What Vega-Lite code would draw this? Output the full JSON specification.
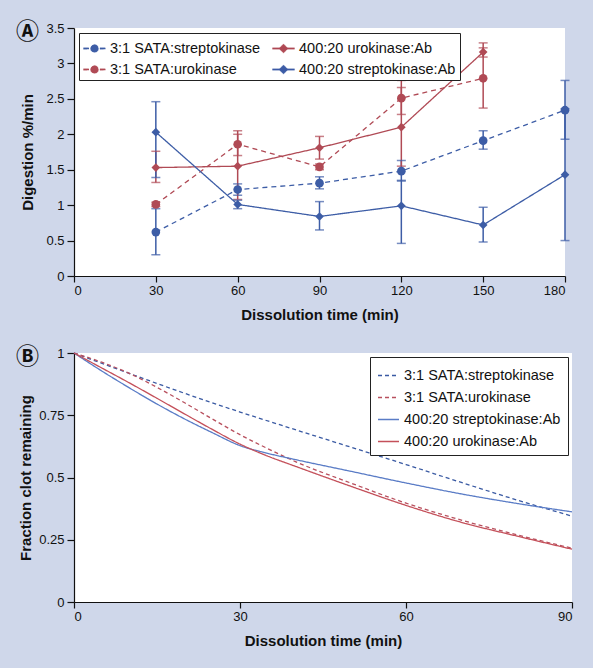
{
  "$schema": "https://vega.github.io/schema/vega-lite/v6.json",
  "background": "#cfd7ea",
  "padding": {"left": 16, "top": 21, "right": 18, "bottom": 20},
  "bounds": "flush",
  "spacing": 77,
  "config": {
    "font": "Liberation Sans",
    "view": {"fill": "white", "stroke": null},
    "axis": {"domainColor": "#111", "tickColor": "#111", "labelColor": "#111", "titleColor": "#111", "labelFontSize": 13, "titleFontSize": 15, "titleFontWeight": "bold", "grid": false, "labelFont": "Liberation Sans", "titleFont": "Liberation Sans", "domainWidth": 1.2, "tickWidth": 1.2, "labelOverlap": false},
    "legend": {"labelFont": "Liberation Sans", "labelFontSize": 14.5, "labelColor": "#111", "fillColor": "white", "strokeColor": "#222", "title": null},
    "title": {"font": "Noto Sans CJK JP", "fontSize": 23, "fontWeight": "bold", "color": "#111", "anchor": "start", "frame": "group", "align": "center", "baseline": "middle", "offset": 0, "dx": -58, "dy": 26}
  },
  "resolve": {"scale": {"color": "independent", "shape": "independent", "strokeDash": "independent", "x": "independent", "y": "independent"}, "legend": {"color": "independent"}},
  "datasets": {
    "digestion": [
      {"series": "3:1 SATA:streptokinase", "t": 30, "v": 0.62, "lo": 0.30, "hi": 0.95},
      {"series": "3:1 SATA:streptokinase", "t": 60, "v": 1.22, "lo": 1.14, "hi": 1.30},
      {"series": "3:1 SATA:streptokinase", "t": 90, "v": 1.31, "lo": 1.23, "hi": 1.40},
      {"series": "3:1 SATA:streptokinase", "t": 120, "v": 1.48, "lo": 1.34, "hi": 1.63},
      {"series": "3:1 SATA:streptokinase", "t": 150, "v": 1.91, "lo": 1.79, "hi": 2.05},
      {"series": "3:1 SATA:streptokinase", "t": 180, "v": 2.34, "lo": 1.93, "hi": 2.76},
      {"series": "3:1 SATA:urokinase", "t": 30, "v": 1.01, "lo": 0.98, "hi": 1.04},
      {"series": "3:1 SATA:urokinase", "t": 60, "v": 1.86, "lo": 1.70, "hi": 2.05},
      {"series": "3:1 SATA:urokinase", "t": 90, "v": 1.54, "lo": 1.50, "hi": 1.58},
      {"series": "3:1 SATA:urokinase", "t": 120, "v": 2.51, "lo": 2.28, "hi": 2.76},
      {"series": "3:1 SATA:urokinase", "t": 150, "v": 2.79, "lo": 2.37, "hi": 3.29},
      {"series": "400:20 urokinase:Ab", "t": 30, "v": 1.53, "lo": 1.32, "hi": 1.76},
      {"series": "400:20 urokinase:Ab", "t": 60, "v": 1.55, "lo": 1.08, "hi": 2.00},
      {"series": "400:20 urokinase:Ab", "t": 90, "v": 1.81, "lo": 1.65, "hi": 1.97},
      {"series": "400:20 urokinase:Ab", "t": 120, "v": 2.10, "lo": 1.55, "hi": 2.66},
      {"series": "400:20 urokinase:Ab", "t": 150, "v": 3.16, "lo": 3.09, "hi": 3.22},
      {"series": "400:20 streptokinase:Ab", "t": 30, "v": 2.03, "lo": 1.39, "hi": 2.46},
      {"series": "400:20 streptokinase:Ab", "t": 60, "v": 1.01, "lo": 0.95, "hi": 1.07},
      {"series": "400:20 streptokinase:Ab", "t": 90, "v": 0.84, "lo": 0.65, "hi": 1.05},
      {"series": "400:20 streptokinase:Ab", "t": 120, "v": 0.99, "lo": 0.46, "hi": 1.35},
      {"series": "400:20 streptokinase:Ab", "t": 150, "v": 0.72, "lo": 0.48, "hi": 0.97},
      {"series": "400:20 streptokinase:Ab", "t": 180, "v": 1.43, "lo": 0.50, "hi": 2.36}
    ],
    "clot": [
      {"curve": "3:1 SATA:streptokinase", "t": 0, "v": 1.0},
      {"curve": "3:1 SATA:streptokinase", "t": 10, "v": 0.918},
      {"curve": "3:1 SATA:streptokinase", "t": 20, "v": 0.838},
      {"curve": "3:1 SATA:streptokinase", "t": 30, "v": 0.763},
      {"curve": "3:1 SATA:streptokinase", "t": 40, "v": 0.692},
      {"curve": "3:1 SATA:streptokinase", "t": 50, "v": 0.622},
      {"curve": "3:1 SATA:streptokinase", "t": 60, "v": 0.552},
      {"curve": "3:1 SATA:streptokinase", "t": 70, "v": 0.48},
      {"curve": "3:1 SATA:streptokinase", "t": 80, "v": 0.41},
      {"curve": "3:1 SATA:streptokinase", "t": 90, "v": 0.345},
      {"curve": "3:1 SATA:urokinase", "t": 0, "v": 1.0},
      {"curve": "3:1 SATA:urokinase", "t": 5, "v": 0.963},
      {"curve": "3:1 SATA:urokinase", "t": 10, "v": 0.918},
      {"curve": "3:1 SATA:urokinase", "t": 15, "v": 0.862},
      {"curve": "3:1 SATA:urokinase", "t": 20, "v": 0.8},
      {"curve": "3:1 SATA:urokinase", "t": 25, "v": 0.735},
      {"curve": "3:1 SATA:urokinase", "t": 30, "v": 0.672},
      {"curve": "3:1 SATA:urokinase", "t": 35, "v": 0.616},
      {"curve": "3:1 SATA:urokinase", "t": 40, "v": 0.564},
      {"curve": "3:1 SATA:urokinase", "t": 50, "v": 0.478},
      {"curve": "3:1 SATA:urokinase", "t": 60, "v": 0.397},
      {"curve": "3:1 SATA:urokinase", "t": 70, "v": 0.329},
      {"curve": "3:1 SATA:urokinase", "t": 80, "v": 0.27},
      {"curve": "3:1 SATA:urokinase", "t": 90, "v": 0.216},
      {"curve": "400:20 streptokinase:Ab", "t": 0, "v": 1.0},
      {"curve": "400:20 streptokinase:Ab", "t": 5, "v": 0.928},
      {"curve": "400:20 streptokinase:Ab", "t": 10, "v": 0.86},
      {"curve": "400:20 streptokinase:Ab", "t": 15, "v": 0.795},
      {"curve": "400:20 streptokinase:Ab", "t": 20, "v": 0.735},
      {"curve": "400:20 streptokinase:Ab", "t": 25, "v": 0.68},
      {"curve": "400:20 streptokinase:Ab", "t": 30, "v": 0.628},
      {"curve": "400:20 streptokinase:Ab", "t": 35, "v": 0.597},
      {"curve": "400:20 streptokinase:Ab", "t": 40, "v": 0.572},
      {"curve": "400:20 streptokinase:Ab", "t": 50, "v": 0.525},
      {"curve": "400:20 streptokinase:Ab", "t": 60, "v": 0.478},
      {"curve": "400:20 streptokinase:Ab", "t": 70, "v": 0.434},
      {"curve": "400:20 streptokinase:Ab", "t": 80, "v": 0.396},
      {"curve": "400:20 streptokinase:Ab", "t": 90, "v": 0.362},
      {"curve": "400:20 urokinase:Ab", "t": 0, "v": 1.0},
      {"curve": "400:20 urokinase:Ab", "t": 5, "v": 0.94},
      {"curve": "400:20 urokinase:Ab", "t": 10, "v": 0.88},
      {"curve": "400:20 urokinase:Ab", "t": 15, "v": 0.818},
      {"curve": "400:20 urokinase:Ab", "t": 20, "v": 0.755},
      {"curve": "400:20 urokinase:Ab", "t": 25, "v": 0.693},
      {"curve": "400:20 urokinase:Ab", "t": 30, "v": 0.634},
      {"curve": "400:20 urokinase:Ab", "t": 35, "v": 0.586},
      {"curve": "400:20 urokinase:Ab", "t": 40, "v": 0.545},
      {"curve": "400:20 urokinase:Ab", "t": 50, "v": 0.465},
      {"curve": "400:20 urokinase:Ab", "t": 60, "v": 0.388},
      {"curve": "400:20 urokinase:Ab", "t": 70, "v": 0.32},
      {"curve": "400:20 urokinase:Ab", "t": 80, "v": 0.265},
      {"curve": "400:20 urokinase:Ab", "t": 90, "v": 0.212}
    ]
  },
  "vconcat": [
    {
      "title": {"text": "Ⓐ"},
      "width": 491,
      "height": 248,
      "data": {"name": "digestion"},
      "encoding": {
        "x": {"field": "t", "type": "quantitative", "scale": {"domain": [0, 180], "nice": false},
              "axis": {"values": [0, 30, 60, 90, 120, 150, 180], "title": "Dissolution time (min)", "tickSize": 6, "labelPadding": 2, "titlePadding": 10}},
        "y": {"field": "v", "type": "quantitative", "scale": {"domain": [0, 3.5], "nice": false},
              "axis": {"values": [0, 0.5, 1, 1.5, 2, 2.5, 3, 3.5], "tickCount": 8, "labelExpr": "format(datum.value, '~g')", "title": "Digestion %/min", "tickSize": 7, "labelPadding": 3, "titlePadding": 10}},
        "color": {
          "field": "series", "type": "nominal",
          "scale": {"domain": ["3:1 SATA:streptokinase", "3:1 SATA:urokinase", "400:20 urokinase:Ab", "400:20 streptokinase:Ab"], "range": ["#3d5da6", "#b04a55", "#b04a55", "#3d5da6"]},
          "legend": {
            "orient": "top-left", "columns": 2, "offset": 5, "padding": 4, "columnPadding": 10, "rowPadding": 3,
            "symbolSize": 484, "symbolStrokeWidth": 0.3, "labelOffset": 4
          }
        }
      },
      "layer": [
        {
          "transform": [{"filter": "datum.t < 0"}],
          "mark": {"type": "point", "filled": true, "opacity": 1},
          "encoding": {
            "shape": {"field": "series", "type": "nominal", "scale": {"domain": ["3:1 SATA:streptokinase", "3:1 SATA:urokinase", "400:20 urokinase:Ab", "400:20 streptokinase:Ab"],
              "range": [
                "M-1,-0.07L-0.5,-0.07L-0.5,0.07L-1,0.07ZM0.5,-0.07L1,-0.07L1,0.07L0.5,0.07ZM0.37,0L0.32,0.185L0.185,0.32L0,0.37L-0.185,0.32L-0.32,0.185L-0.37,0L-0.32,-0.185L-0.185,-0.32L0,-0.37L0.185,-0.32L0.32,-0.185Z",
                "M-1,-0.07L-0.5,-0.07L-0.5,0.07L-1,0.07ZM0.5,-0.07L1,-0.07L1,0.07L0.5,0.07ZM0.37,0L0.32,0.185L0.185,0.32L0,0.37L-0.185,0.32L-0.32,0.185L-0.37,0L-0.32,-0.185L-0.185,-0.32L0,-0.37L0.185,-0.32L0.32,-0.185Z",
                "M-1,-0.06L1,-0.06L1,0.06L-1,0.06ZM0,-0.42L0.42,0L0,0.42L-0.42,0Z",
                "M-1,-0.06L1,-0.06L1,0.06L-1,0.06ZM0,-0.42L0.42,0L0,0.42L-0.42,0Z"
              ]}, "legend": null}
          }
        },
        {
          "mark": {"type": "rule", "strokeWidth": 1.5},
          "encoding": {"y": {"field": "lo", "type": "quantitative"}, "y2": {"field": "hi"}}
        },
        {
          "mark": {"type": "tick", "orient": "horizontal", "size": 9, "thickness": 1.5},
          "encoding": {"y": {"field": "lo", "type": "quantitative"}}
        },
        {
          "mark": {"type": "tick", "orient": "horizontal", "size": 9, "thickness": 1.5},
          "encoding": {"y": {"field": "hi", "type": "quantitative"}}
        },
        {
          "mark": {"type": "line", "strokeWidth": 1.3},
          "encoding": {
            "strokeDash": {"field": "series", "type": "nominal", "scale": {"domain": ["3:1 SATA:streptokinase", "3:1 SATA:urokinase", "400:20 urokinase:Ab", "400:20 streptokinase:Ab"], "range": [[5, 4], [5, 4], [1, 0], [1, 0]]}, "legend": null}
          }
        },
        {
          "transform": [{"filter": "indexof(datum.series, 'SATA') >= 0"}],
          "mark": {"type": "point", "shape": "circle", "filled": true, "opacity": 1, "size": 75}
        },
        {
          "transform": [{"filter": "indexof(datum.series, 'SATA') < 0"}],
          "mark": {"type": "point", "shape": "diamond", "filled": true, "opacity": 1, "size": 75}
        }
      ]
    },
    {
      "title": {"text": "Ⓑ"},
      "width": 498,
      "height": 249,
      "encoding": {
        "x": {"field": "t", "type": "quantitative", "scale": {"domain": [0, 90], "nice": false},
              "axis": {"values": [0, 30, 60, 90], "title": "Dissolution time (min)", "tickSize": 6, "labelPadding": 2, "titlePadding": 10}}
      },
      "layer": [
        {
          "data": {"name": "clot"},
          "mark": {"type": "line", "strokeWidth": 1.3, "interpolate": "monotone"},
          "encoding": {
            "y": {"field": "v", "type": "quantitative", "scale": {"domain": [0, 1], "nice": false},
                  "axis": {"values": [0, 0.25, 0.5, 0.75, 1], "labelExpr": "format(datum.value, '~g')", "title": "Fraction clot remaining", "tickSize": 7, "labelPadding": 3, "titlePadding": 5}},
            "strokeDash": {"field": "curve", "type": "nominal", "scale": {"domain": ["3:1 SATA:streptokinase", "3:1 SATA:urokinase", "400:20 streptokinase:Ab", "400:20 urokinase:Ab"], "range": [[4, 3], [4, 3], [1, 0], [1, 0]]}, "legend": null},
            "color": {
              "field": "curve", "type": "nominal",
              "scale": {"domain": ["3:1 SATA:streptokinase", "3:1 SATA:urokinase", "400:20 streptokinase:Ab", "400:20 urokinase:Ab"], "range": ["#3a5aa3", "#b8505e", "#5a7cc6", "#c4505a"]},
              "legend": {
                "orient": "top-right", "offset": 4, "padding": 7, "rowPadding": 4,
                "symbolSize": 441, "symbolStrokeWidth": 1.3, "labelOffset": 4, "symbolType": "stroke"
              }
            }
          }
        },
        {
          "data": {"values": [{"label": "60% residual stenosis"}]},
          "mark": {"type": "rule", "color": "#111", "strokeWidth": 1.2},
          "encoding": {"x": {"datum": 0, "type": "quantitative"}, "x2": {"datum": 28.4}, "y": {"datum": 0.625, "type": "quantitative"}}
        },
        {
          "data": {"values": [{"label": "60% residual stenosis"}]},
          "mark": {"type": "point", "shape": "triangle-right", "filled": true, "color": "#111", "size": 45, "opacity": 1},
          "encoding": {"x": {"datum": 28.3, "type": "quantitative"}, "y": {"datum": 0.625, "type": "quantitative"}}
        },
        {
          "data": {"values": [{"label": "60% residual stenosis"}]},
          "mark": {"type": "text", "fontSize": 15, "font": "Liberation Sans", "color": "#111", "align": "left", "baseline": "middle"},
          "encoding": {"x": {"datum": 1.3, "type": "quantitative"}, "y": {"datum": 0.578, "type": "quantitative"}, "text": {"field": "label"}}
        }
      ]
    }
  ]
}
